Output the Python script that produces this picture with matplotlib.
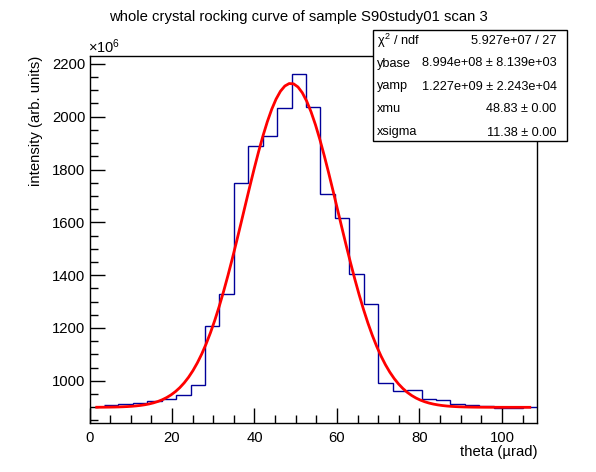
import numpy as np
import matplotlib
matplotlib.use("Agg")
import matplotlib.pyplot as plt
from matplotlib.patches import Rectangle
from matplotlib.ticker import MultipleLocator

# histogram: 3.5 urad bins, contents in units of 1e6
bin_width = 3.5
first_edge = 3.5
counts = [909, 913, 916, 922, 931, 947, 984, 1209, 1328, 1748,
          1888, 1928, 2032, 2160, 2036, 1706, 1616, 1404, 1290, 991,
          961, 965, 931, 927, 913, 909, 903, 897, 897, 902]

# fit results shown in the stats box
ybase = 899.4
yamp = 1227.0
xmu = 48.83
xsigma = 11.38
fit_range = (1.75, 106.75)

stat_names = ["$\\chi^{2}$ / ndf", "ybase", "yamp", "xmu", "xsigma"]
stat_values = ["5.927e+07 / 27", "8.994e+08 ± 8.139e+03",
               "1.227e+09 ± 2.243e+04", "48.83 ± 0.00", "11.38 ± 0.00"]

plt.rcParams['font.family'] = ['Liberation Sans', 'DejaVu Sans']
plt.rcParams['mathtext.fontset'] = 'custom'
plt.rcParams['mathtext.rm'] = 'Liberation Sans'
plt.rcParams['mathtext.it'] = 'Liberation Sans'

W, H = 596, 472
fig = plt.figure(figsize=(W / 100, H / 100), dpi=100)
ax = fig.add_axes([89.5 / W, 1 - 423 / H, (537 - 89.5) / W, (423 - 55.7) / H])

edges = first_edge + bin_width * np.arange(len(counts) + 1)
ax.stairs(counts, edges, baseline=None, color='#000099', lw=1.0)

xf = np.linspace(fit_range[0], fit_range[1], 100)
yf = ybase + yamp * np.exp(-0.5 * ((xf - xmu) / xsigma) ** 2)
ax.plot(xf, yf, color='#ff0000', lw=2.0)

ax.set_xlim(0, 108.5)
ax.set_ylim(840, 2231)
ax.xaxis.set_major_locator(MultipleLocator(20))
ax.xaxis.set_minor_locator(MultipleLocator(5))
ax.yaxis.set_major_locator(MultipleLocator(200))
ax.yaxis.set_minor_locator(MultipleLocator(50))
ax.tick_params(which='both', direction='in', top=False, right=False, width=1, labelsize=10.7)
ax.tick_params(which='major', length=11)
ax.tick_params(which='minor', length=5.5)
ax.tick_params(axis='x', pad=6)
ax.tick_params(axis='y', pad=3)
for s in ax.spines.values():
    s.set_linewidth(1)

fig.text(88 / W, 1 - 53 / H, "$\\times$10$^{6}$", fontsize=10.5, ha='left', va='baseline')
ax.set_xlabel("theta (µrad)", fontsize=10.7, ha='right', x=1.0, labelpad=0)
ax.set_ylabel("intensity (arb. units)", fontsize=10.7, ha='right', y=1.0, labelpad=6.5)

fig.text(0.5, 1 - 17.5 / H, "whole crystal rocking curve of sample S90study01 scan 3",
         fontsize=10.7, ha='center', va='center')

# stats box
bx0, by0, bx1, by1 = 373, 30, 567, 141
fig.patches.append(Rectangle((bx0 / W, 1 - by1 / H), (bx1 - bx0) / W, (by1 - by0) / H,
                             transform=fig.transFigure, facecolor='white',
                             edgecolor='black', lw=1, zorder=5))
for i, (name, val) in enumerate(zip(stat_names, stat_values)):
    yy = 1 - (by0 + 10.5 + 23 * i) / H
    fig.text((bx0 + 4) / W, yy, name, fontsize=9.2, ha='left', va='center', zorder=6)
    fig.text((bx1 - 10.5) / W, yy, val, fontsize=9.2, ha='right', va='center', zorder=6)

fig.savefig("out.png", dpi=100)
